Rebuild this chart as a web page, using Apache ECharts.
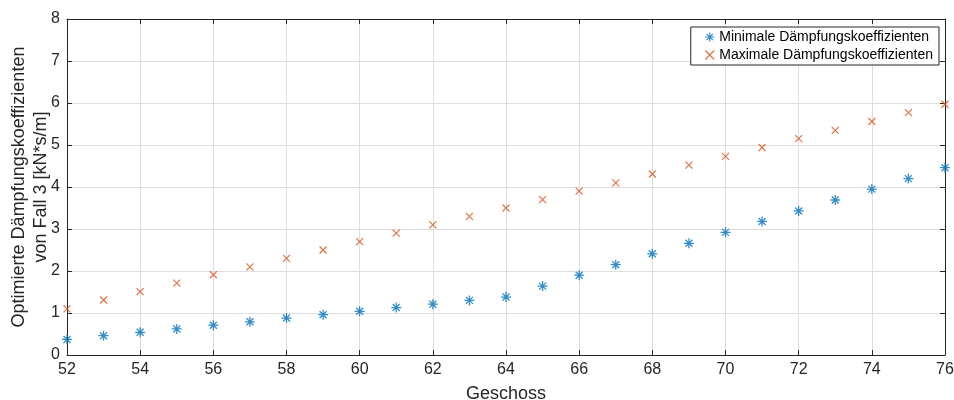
<!DOCTYPE html>
<html>
<head>
<meta charset="utf-8">
<script src="https://cdn.jsdelivr.net/npm/echarts@6/dist/echarts.min.js"></script>
<style>
  html, body { margin: 0; padding: 0; background: #fff; }
  #chart { width: 954px; height: 400px; }
</style>
</head>
<body>
<div id="chart"></div>
<script>
// Geschoss numbers (x values)
var floors = [52, 53, 54, 55, 56, 57, 58, 59, 60, 61, 62, 63, 64, 65, 66, 67, 68, 69, 70, 71, 72, 73, 74, 75, 76];
// minimal damping coefficients [kN*s/m]
var minValues = [0.37, 0.46, 0.54, 0.62, 0.71, 0.79, 0.88, 0.96, 1.04, 1.13, 1.21, 1.30, 1.38, 1.64, 1.90, 2.15, 2.41, 2.66, 2.92, 3.18, 3.43, 3.69, 3.95, 4.20, 4.46];
// maximal damping coefficients [kN*s/m]
var maxValues = [1.10, 1.31, 1.51, 1.71, 1.91, 2.10, 2.30, 2.50, 2.70, 2.90, 3.10, 3.30, 3.50, 3.70, 3.90, 4.10, 4.31, 4.52, 4.73, 4.94, 5.15, 5.35, 5.56, 5.77, 5.97];

var seriesNames = ['Minimale Dämpfungskoeffizienten', 'Maximale Dämpfungskoeffizienten'];

var blue = '#0072BD';
var red = '#D95319';
var axisColor = '#262626';
var font = 'Liberation Sans, Arial, sans-serif';

var starPath = 'path://M5,0 L5,10 M0,5 L10,5 M1.5,1.5 L8.5,8.5 M1.5,8.5 L8.5,1.5';
var crossPath = 'path://M0,0 L10,10 M0,10 L10,0';

function pairs(ys) {
  return floors.map(function (x, i) { return [x, ys[i]]; });
}

var chartDom = document.getElementById('chart');
var myChart = echarts.init(chartDom);

var tickStyle = { show: true, inside: true, length: 5, lineStyle: { color: axisColor, width: 1 } };

var option = {
  animation: false,
  textStyle: { fontFamily: font },
  grid: { left: 67, right: 9, top: 19, bottom: 45, containLabel: false, outerBoundsMode: 'none' },
  legend: {
    orient: 'vertical',
    right: 15,
    top: 27,
    itemGap: 4,
    itemWidth: 9,
    itemHeight: 9,
    padding: [3, 6, 3, 12],
    backgroundColor: '#fff',
    borderColor: axisColor,
    borderWidth: 1,
    borderRadius: 0,
    textStyle: { fontSize: 14, color: '#000', fontFamily: font },
    data: [
      { name: seriesNames[0], icon: starPath, itemStyle: { color: 'none', borderColor: blue, borderWidth: 1.2 } },
      { name: seriesNames[1], icon: crossPath, itemStyle: { color: 'none', borderColor: red, borderWidth: 1.2 } }
    ]
  },
  xAxis: [
    {
      type: 'value',
      min: 52,
      max: 76,
      interval: 2,
      name: 'Geschoss',
      nameLocation: 'middle',
      nameGap: 30,
      nameMoveOverlap: false,
      nameTextStyle: { fontSize: 18, color: '#262626' },
      axisLine: { show: true, onZero: false, lineStyle: { color: axisColor, width: 1 } },
      axisTick: tickStyle,
      axisLabel: { fontSize: 16, color: '#262626', margin: 7 },
      splitLine: { show: true, lineStyle: { color: '#dedede', width: 1 } }
    },
    {
      type: 'value',
      position: 'top',
      min: 52,
      max: 76,
      interval: 2,
      axisLine: { show: true, onZero: false, lineStyle: { color: axisColor, width: 1 } },
      axisTick: tickStyle,
      axisLabel: { show: false },
      splitLine: { show: false }
    }
  ],
  yAxis: [
    {
      type: 'value',
      min: 0,
      max: 8,
      interval: 1,
      name: 'Optimierte Dämpfungskoeffizienten\nvon Fall 3 [kN*s/m]',
      nameLocation: 'middle',
      nameGap: 15,
      nameMoveOverlap: false,
      nameTextStyle: { fontSize: 18, color: '#262626', lineHeight: 22 },
      axisLine: { show: true, onZero: false, lineStyle: { color: axisColor, width: 1 } },
      axisTick: tickStyle,
      axisLabel: { fontSize: 16, color: '#262626', margin: 7 },
      splitLine: { show: true, lineStyle: { color: '#dedede', width: 1 } }
    },
    {
      type: 'value',
      position: 'right',
      min: 0,
      max: 8,
      interval: 1,
      axisLine: { show: true, onZero: false, lineStyle: { color: axisColor, width: 1 } },
      axisTick: tickStyle,
      axisLabel: { show: false },
      splitLine: { show: false }
    }
  ],
  series: [
    {
      name: seriesNames[0],
      type: 'scatter',
      symbol: starPath,
      symbolSize: 10,
      itemStyle: { color: 'none', borderColor: blue, borderWidth: 1.3 },
      data: pairs(minValues)
    },
    {
      name: seriesNames[1],
      type: 'scatter',
      symbol: crossPath,
      symbolSize: 7,
      itemStyle: { color: 'none', borderColor: red, borderWidth: 1.2 },
      data: pairs(maxValues)
    }
  ]
};

option && myChart.setOption(option);
</script>
</body>
</html>
